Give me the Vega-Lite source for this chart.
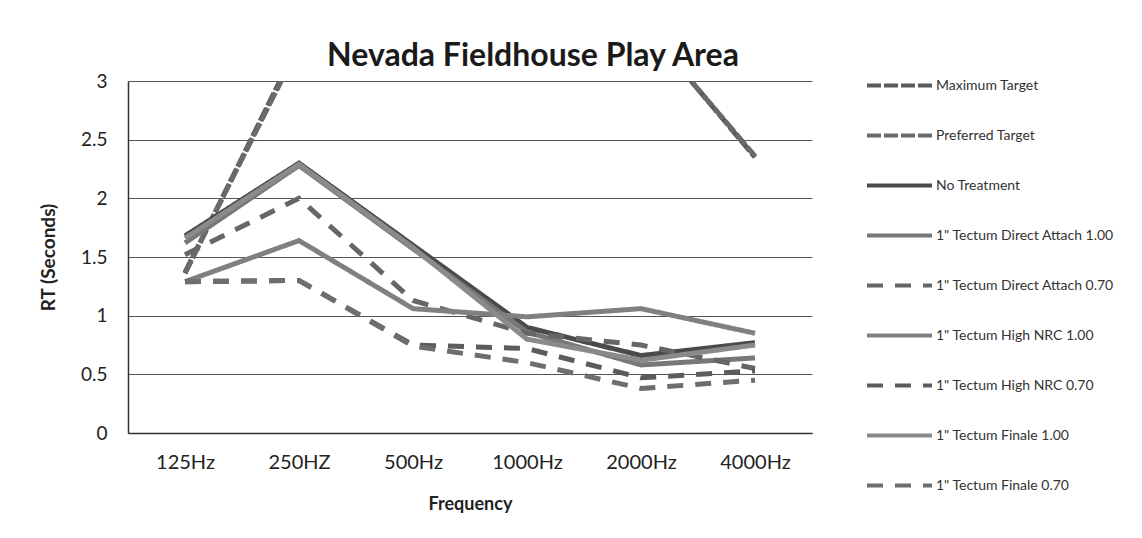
{
  "$schema": "https://vega.github.io/schema/vega-lite/v6.json",
  "width": 684,
  "height": 352,
  "autosize": {"type": "none"},
  "padding": {"left": 128, "top": 81, "right": 330, "bottom": 105},
  "background": "white",
  "config": {"view": {"stroke": null}, "font": "Lato"},
  "title": {"text": "Nevada Fieldhouse Play Area", "fontSize": 32, "font": "Lato", "fontWeight": "bold", "color": "#1a1a1a", "anchor": "middle", "dx": 63, "dy": 34, "offset": 12},
  "data": {"values": [
    {"series": "Maximum Target", "freq": "125Hz", "rt": 1.36},
    {"series": "Maximum Target", "freq": "250HZ", "rt": 3.33},
    {"series": "Maximum Target", "freq": "500Hz", "rt": 3.7},
    {"series": "Maximum Target", "freq": "1000Hz", "rt": 3.7},
    {"series": "Maximum Target", "freq": "2000Hz", "rt": 3.51},
    {"series": "Maximum Target", "freq": "4000Hz", "rt": 2.35},
    {"series": "Preferred Target", "freq": "125Hz", "rt": 1.37},
    {"series": "Preferred Target", "freq": "250HZ", "rt": 3.3},
    {"series": "Preferred Target", "freq": "500Hz", "rt": 3.6},
    {"series": "Preferred Target", "freq": "1000Hz", "rt": 3.6},
    {"series": "Preferred Target", "freq": "2000Hz", "rt": 3.5},
    {"series": "Preferred Target", "freq": "4000Hz", "rt": 2.36},
    {"series": "No Treatment", "freq": "125Hz", "rt": 1.68},
    {"series": "No Treatment", "freq": "250HZ", "rt": 2.3},
    {"series": "No Treatment", "freq": "500Hz", "rt": 1.6},
    {"series": "No Treatment", "freq": "1000Hz", "rt": 0.9},
    {"series": "No Treatment", "freq": "2000Hz", "rt": 0.66},
    {"series": "No Treatment", "freq": "4000Hz", "rt": 0.77},
    {"series": "1\" Tectum Direct Attach 1.00", "freq": "125Hz", "rt": 1.62},
    {"series": "1\" Tectum Direct Attach 1.00", "freq": "250HZ", "rt": 2.28},
    {"series": "1\" Tectum Direct Attach 1.00", "freq": "500Hz", "rt": 1.57},
    {"series": "1\" Tectum Direct Attach 1.00", "freq": "1000Hz", "rt": 0.86},
    {"series": "1\" Tectum Direct Attach 1.00", "freq": "2000Hz", "rt": 0.58},
    {"series": "1\" Tectum Direct Attach 1.00", "freq": "4000Hz", "rt": 0.64},
    {"series": "1\" Tectum Direct Attach 0.70", "freq": "125Hz", "rt": 1.52},
    {"series": "1\" Tectum Direct Attach 0.70", "freq": "250HZ", "rt": 2.0},
    {"series": "1\" Tectum Direct Attach 0.70", "freq": "500Hz", "rt": 1.13},
    {"series": "1\" Tectum Direct Attach 0.70", "freq": "1000Hz", "rt": 0.85},
    {"series": "1\" Tectum Direct Attach 0.70", "freq": "2000Hz", "rt": 0.75},
    {"series": "1\" Tectum Direct Attach 0.70", "freq": "4000Hz", "rt": 0.55},
    {"series": "1\" Tectum High NRC 1.00", "freq": "125Hz", "rt": 1.29},
    {"series": "1\" Tectum High NRC 1.00", "freq": "250HZ", "rt": 1.64},
    {"series": "1\" Tectum High NRC 1.00", "freq": "500Hz", "rt": 1.06},
    {"series": "1\" Tectum High NRC 1.00", "freq": "1000Hz", "rt": 0.99},
    {"series": "1\" Tectum High NRC 1.00", "freq": "2000Hz", "rt": 1.06},
    {"series": "1\" Tectum High NRC 1.00", "freq": "4000Hz", "rt": 0.85},
    {"series": "1\" Tectum High NRC 0.70", "freq": "125Hz", "rt": 1.29},
    {"series": "1\" Tectum High NRC 0.70", "freq": "250HZ", "rt": 1.3},
    {"series": "1\" Tectum High NRC 0.70", "freq": "500Hz", "rt": 0.75},
    {"series": "1\" Tectum High NRC 0.70", "freq": "1000Hz", "rt": 0.72},
    {"series": "1\" Tectum High NRC 0.70", "freq": "2000Hz", "rt": 0.47},
    {"series": "1\" Tectum High NRC 0.70", "freq": "4000Hz", "rt": 0.53},
    {"series": "1\" Tectum Finale 1.00", "freq": "125Hz", "rt": 1.66},
    {"series": "1\" Tectum Finale 1.00", "freq": "250HZ", "rt": 2.29},
    {"series": "1\" Tectum Finale 1.00", "freq": "500Hz", "rt": 1.58},
    {"series": "1\" Tectum Finale 1.00", "freq": "1000Hz", "rt": 0.8},
    {"series": "1\" Tectum Finale 1.00", "freq": "2000Hz", "rt": 0.62},
    {"series": "1\" Tectum Finale 1.00", "freq": "4000Hz", "rt": 0.75},
    {"series": "1\" Tectum Finale 0.70", "freq": "125Hz", "rt": 1.29},
    {"series": "1\" Tectum Finale 0.70", "freq": "250HZ", "rt": 1.3},
    {"series": "1\" Tectum Finale 0.70", "freq": "500Hz", "rt": 0.74},
    {"series": "1\" Tectum Finale 0.70", "freq": "1000Hz", "rt": 0.6},
    {"series": "1\" Tectum Finale 0.70", "freq": "2000Hz", "rt": 0.38},
    {"series": "1\" Tectum Finale 0.70", "freq": "4000Hz", "rt": 0.45}
  ]},
  "mark": {"type": "line", "clip": true, "strokeWidth": 5},
  "encoding": {
    "x": {
      "field": "freq", "type": "ordinal",
      "sort": ["125Hz", "250HZ", "500Hz", "1000Hz", "2000Hz", "4000Hz"],
      "scale": {"type": "point", "padding": 0.5},
      "axis": {"title": "Frequency", "titleFontSize": 18, "titleFontWeight": "bold", "titleColor": "#222", "titlePadding": 23, "labelFontSize": 20, "labelAngle": 0, "labelPadding": 19, "labelColor": "#222", "ticks": false, "domainColor": "#333", "domainWidth": 1.5}
    },
    "y": {
      "field": "rt", "type": "quantitative",
      "scale": {"domain": [0, 3], "nice": false},
      "axis": {"values": [0, 0.5, 1, 1.5, 2, 2.5, 3], "format": "~g", "title": "RT (Seconds)", "titleFontSize": 19, "titleFontWeight": "bold", "titleColor": "#222", "titlePadding": 22, "grid": true, "gridColor": "#555", "gridWidth": 1.2, "ticks": false, "labelPadding": 21, "labelFontSize": 19, "labelColor": "#222", "domainColor": "#333", "domainWidth": 1.5}
    },
    "color": {
      "field": "series", "type": "nominal",
      "scale": {
        "domain": ["Maximum Target", "Preferred Target", "No Treatment", "1\" Tectum Direct Attach 1.00", "1\" Tectum Direct Attach 0.70", "1\" Tectum High NRC 1.00", "1\" Tectum High NRC 0.70", "1\" Tectum Finale 1.00", "1\" Tectum Finale 0.70"],
        "range": ["#5a5a5a", "#6a6a6a", "#4a4a4a", "#777777", "#666666", "#808080", "#5c5c5c", "#8a8a8a", "#6e6e6e"]
      },
      "legend": {"title": null, "orient": "none", "legendX": 737, "legendY": -30, "padding": 0, "columns": 1, "symbolType": "stroke", "symbolSize": 4225, "symbolStrokeWidth": 4, "rowPadding": 7, "labelOffset": 2, "labelFontSize": 14, "labelColor": "#333", "labelLimit": 300}
    },
    "strokeDash": {
      "field": "series", "type": "nominal",
      "scale": {
        "domain": ["Maximum Target", "Preferred Target", "No Treatment", "1\" Tectum Direct Attach 1.00", "1\" Tectum Direct Attach 0.70", "1\" Tectum High NRC 1.00", "1\" Tectum High NRC 0.70", "1\" Tectum Finale 1.00", "1\" Tectum Finale 0.70"],
        "range": [[14, 3], [14, 3], [1, 0], [1, 0], [16, 12], [1, 0], [16, 12], [1, 0], [16, 12]]
      }
    }
  }
}
